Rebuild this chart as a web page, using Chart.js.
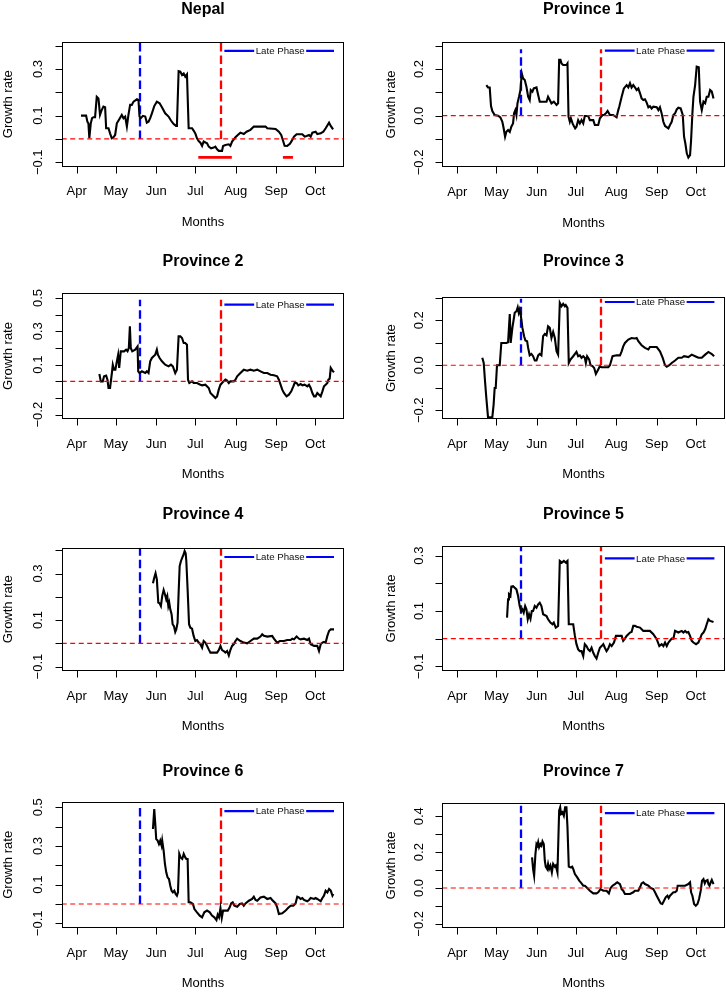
<!DOCTYPE html>
<html>
<head>
<meta charset="utf-8">
<script src="https://cdn.jsdelivr.net/npm/chart.js@4.4.0/dist/chart.umd.min.js"></script>
<style>
html, body { margin: 0; padding: 0; background: #fff; }
#wrap { position: relative; width: 726px; height: 993px; }
canvas { position: absolute; }
</style>
</head>
<body>
<div id="wrap"></div>
<script>
// x values are days since 1 April
const monthLabels = ['Apr', 'May', 'Jun', 'Jul', 'Aug', 'Sep', 'Oct'];
const monthStarts = [0, 30, 61, 91, 122, 153, 183];
const earlyDay = 48.8;      // blue dashed line
const lateDay = 110.4;      // red dashed line
const phaseFrom = 113.3, phaseTo = 197.4, phaseText = 156.1;
const nepalLow = [[93.3, 119], [158.2, 165.9]];   // red bars under Nepal
const nepalLowLevel = -0.079;

const nepal = [[3.3,0.1],[7.2,0.1],[8.2,0.074],[9.0,0.067],[9.7,0.003],[10.8,0.067],[11.8,0.089],[12.8,0.093],[14.1,0.093],[15.4,0.181],[16.7,0.174],[17.9,0.103],[19.2,0.124],[20.5,0.139],[21.8,0.136],[22.6,0.046],[24.4,0.046],[25.6,0.024],[26.9,0.003],[28.2,0.007],[29.5,0.017],[30.8,0.067],[32.1,0.079],[34.6,0.103],[35.9,0.089],[37.2,0.096],[38.5,0.053],[39.7,0.103],[41.0,0.146],[42.3,0.146],[43.6,0.16],[46.2,0.17],[47.4,0.167],[48.2,0.096],[49.2,0.089],[50.8,0.099],[52.6,0.096],[53.8,0.07],[55.1,0.074],[56.4,0.089],[57.7,0.11],[59.5,0.141],[61.5,0.16],[63.6,0.153],[65.4,0.136],[67.9,0.11],[70.5,0.096],[72.3,0.079],[74.4,0.064],[76.2,0.056],[76.9,0.06],[78.2,0.291],[79.5,0.289],[80.8,0.274],[82.1,0.281],[83.3,0.267],[84.6,0.277],[85.9,0.046],[88.5,0.046],[89.7,0.036],[91.0,0.024],[92.3,0.003],[93.6,-0.009],[94.9,-0.016],[96.2,-0.03],[97.4,-0.011],[100,-0.019],[101.3,-0.033],[103.1,-0.04],[105.1,-0.037],[106.4,-0.033],[107.7,-0.044],[109,-0.051],[111.5,-0.051],[112.3,-0.03],[114.1,-0.026],[116.7,-0.023],[117.9,-0.03],[119.2,-0.011],[121.8,0.007],[123.6,0.017],[125.6,0.027],[128.2,0.021],[130.3,0.031],[133.3,0.039],[135.9,0.053],[144.9,0.053],[146.2,0.046],[152.6,0.043],[155.1,0.031],[156.9,0.017],[158.5,-0.011],[159.5,-0.029],[161.5,-0.03],[163.6,-0.021],[165.4,-0.004],[166.7,0.01],[168.7,0.02],[173.1,0.02],[174.9,0.01],[176.4,0.013],[178.2,0.017],[179.5,0.01],[180.8,0.027],[183.3,0.031],[184.6,0.021],[187.2,0.024],[189.2,0.031],[191,0.046],[193.6,0.07],[194.9,0.056],[196.7,0.041]];

const province1 = [[22.3,0.131],[23.6,0.121],[24.9,0.121],[25.9,0.041],[26.9,0.02],[28.7,0.003],[31.3,0],[33.1,-0.007],[34.6,-0.026],[35.6,-0.054],[36.7,-0.09],[37.7,-0.069],[39.0,-0.061],[40.3,-0.069],[41.5,-0.047],[42.8,-0.033],[43.6,0.01],[44.6,0.024],[45.4,0.003],[46.2,0.053],[47.4,0.081],[48.5,0.11],[49.5,0.181],[50.5,0.16],[51.8,0.153],[53.1,0.124],[54.4,0.081],[55.6,0.067],[56.4,0.11],[57.7,0.103],[58.7,0.117],[60.8,0.121],[62.1,0.089],[63.3,0.06],[65.9,0.06],[68.5,0.06],[69.7,0.081],[71.0,0.067],[72.3,0.053],[74.1,0.06],[76.2,0.046],[77.4,0.053],[78.2,0.239],[79.2,0.239],[80.0,0.224],[81.3,0.217],[82.6,0.217],[83.8,0.217],[84.6,0.224],[85.4,-0.004],[86.4,-0.026],[87.2,-0.011],[88.5,-0.033],[89.5,-0.044],[90.5,-0.054],[91.5,-0.047],[92.8,-0.019],[94.1,-0.033],[95.4,-0.019],[96.7,-0.033],[97.9,-0.001],[100.5,-0.001],[101.8,-0.019],[104.4,-0.019],[105.6,-0.04],[108.2,-0.04],[109.5,-0.011],[111.5,0.003],[112.6,0.003],[114.1,0.01],[115.4,0.02],[117.2,0.003],[119.7,0.003],[122.3,-0.007],[123.6,0.024],[124.4,0.039],[126.2,0.081],[127.9,0.117],[130,0.131],[131.3,0.121],[132.6,0.139],[133.8,0.121],[135.1,0.131],[136.4,0.121],[137.7,0.11],[139,0.117],[140.3,0.096],[141.5,0.074],[142.8,0.067],[144.1,0.07],[145.4,0.056],[146.7,0.036],[147.9,0.041],[149.2,0.031],[150.5,0.039],[153.1,0.036],[154.4,0.024],[155.6,0.036],[156.9,0.01],[158.2,-0.026],[159.5,-0.044],[162.1,-0.054],[163.3,-0.04],[164.6,-0.026],[165.9,0.003],[167.2,0.01],[168.5,0.027],[169.7,0.034],[171.5,0.031],[173.1,0.003],[174.1,-0.09],[175.1,-0.119],[176.2,-0.161],[177.4,-0.179],[178.7,-0.169],[179.5,-0.104],[180.5,0.01],[181.3,0.081],[182.6,0.131],[183.8,0.21],[185.4,0.207],[186.4,0.06],[187.7,0.024],[189,0.06],[190.3,0.053],[191.5,0.081],[192.8,0.081],[194.1,0.11],[195.4,0.103],[196.7,0.074]];

const province2 = [[17.4,0.044],[18.5,0],[20,0],[21,0.03],[22.6,0.034],[23.6,0.01],[24.4,-0.04],[25.6,-0.04],[27,0.05],[27.7,0.1],[28.7,0.07],[29.7,0.07],[30.8,0.12],[31.8,0.16],[32.6,0.08],[33.8,0.18],[34.9,0.18],[36.4,0.18],[37.9,0.19],[39,0.18],[40,0.2],[40.8,0.33],[41.5,0.2],[42.6,0.18],[44.9,0.19],[46.7,0.21],[47.2,0.06],[48.2,0.05],[50,0.06],[52.6,0.05],[53.8,0.06],[55.1,0.05],[56.4,0.12],[57.7,0.14],[59,0.15],[60.3,0.16],[61.5,0.19],[62.3,0.16],[63.6,0.14],[65.4,0.12],[67.9,0.1],[70.5,0.09],[72.3,0.1],[73.8,0.09],[75.6,0.05],[76.9,0.07],[78.2,0.27],[79.5,0.27],[80.8,0.26],[82.1,0.23],[83.3,0.23],[84.6,0.22],[85.4,0.01],[86.4,-0.01],[88.5,0],[89.7,-0.01],[92.3,-0.01],[94.9,-0.02],[96.2,-0.024],[98.7,-0.02],[101.3,-0.04],[102.6,-0.07],[105.1,-0.09],[106.4,-0.1],[107.7,-0.09],[109,-0.05],[110.3,-0.02],[111.5,-0.01],[112.8,0],[114.1,0.01],[115.4,0.004],[116.7,-0.01],[117.9,0],[120.5,0],[121.8,0.01],[123.1,0.03],[125.6,0.05],[128.2,0.07],[130.8,0.064],[133.3,0.07],[135.9,0.064],[138.5,0.07],[141,0.06],[143.6,0.05],[146.2,0.05],[148.7,0.04],[151.3,0.036],[153.8,0.03],[155.1,0.01],[156.4,-0.02],[157.7,-0.05],[159,-0.07],[161,-0.09],[162.8,-0.08],[164.6,-0.06],[166.2,-0.03],[167.2,-0.01],[168.7,-0.01],[170,-0.024],[171.8,-0.016],[173.1,-0.024],[174.9,-0.02],[176.9,-0.03],[178.2,-0.02],[179.5,-0.04],[180.8,-0.07],[182.1,-0.09],[183.3,-0.09],[184.6,-0.07],[185.9,-0.08],[187.2,-0.09],[188.5,-0.06],[189.7,-0.03],[191,-0.02],[192.3,-0.01],[193.1,0.01],[194.1,0.016],[194.9,0.08],[196.2,0.064],[197.4,0.054]];

const province3 = [[19.2,0.033],[20.3,0.01],[21.3,-0.071],[22.3,-0.145],[23.6,-0.231],[26.9,-0.231],[27.9,-0.175],[28.7,-0.101],[29.5,-0.101],[30.5,0],[32.6,0],[33.8,0.099],[35.1,0.099],[37.7,0.099],[39,0.102],[40.3,0.228],[41,0.099],[42.3,0.166],[44.1,0.233],[45.4,0.24],[46.4,0.258],[47.2,0.233],[47.9,0.247],[48.7,0.225],[50,0.166],[51.3,0.129],[52.3,0.11],[53.6,0.107],[54.4,0.077],[55.6,0.044],[56.9,0.05],[58.2,0.04],[59.5,0.021],[60.8,0.021],[62.1,0.044],[63.3,0.05],[64.6,0.044],[65.9,0.129],[67.2,0.139],[68.5,0.133],[69.7,0.173],[71,0.166],[72.3,0.121],[73.6,0.148],[74.9,0.121],[76.2,0.062],[77.4,0.047],[78.7,0.277],[80,0.262],[81.3,0.273],[82.6,0.262],[83.3,0.267],[84.6,0.255],[85.6,0.01],[86.9,0.025],[89,0.04],[91.5,0.059],[92.8,0.04],[94.1,0.044],[95.4,0.033],[96.7,0.04],[97.9,0.033],[98.7,0.01],[99.7,0.04],[101.3,0.025],[102.3,0],[103.8,-0.004],[105.1,-0.012],[106.4,-0.039],[108.2,-0.019],[109.5,-0.004],[110.8,-0.009],[113.3,-0.009],[115.9,-0.009],[117.2,0],[119.2,0.04],[122.3,0.044],[124.9,0.044],[126.2,0.062],[127.4,0.084],[128.7,0.099],[131.3,0.114],[133.8,0.121],[136.4,0.119],[137.7,0.121],[139,0.107],[141.5,0.089],[144.1,0.077],[146.7,0.07],[147.9,0.081],[153.1,0.081],[155.6,0.062],[157.7,0.033],[159.5,0],[160.8,-0.007],[162.8,0],[164.6,0.01],[167.2,0.021],[169.7,0.033],[172.3,0.033],[174.1,0.04],[177.4,0.036],[180,0.047],[182.6,0.04],[185.1,0.033],[187.7,0.033],[190.3,0.047],[192.8,0.059],[195.4,0.05],[197.2,0.04]];

const province4 = [[58.5,0.258],[59.5,0.282],[60.5,0.301],[61.5,0.275],[62.6,0.175],[63.6,0.172],[64.6,0.16],[65.6,0.203],[66.7,0.229],[67.7,0.211],[68.7,0.189],[69.5,0.203],[70.3,0.16],[71,0.175],[71.8,0.146],[72.8,0.125],[73.6,0.082],[74.6,0.074],[75.6,0.049],[76.4,0.06],[77.4,0.089],[78.2,0.218],[79,0.332],[80,0.354],[81,0.368],[82.1,0.383],[82.8,0.397],[83.6,0.387],[84.1,0.354],[85.1,0.232],[86.2,0.082],[87.2,0.067],[88.5,0.063],[89.7,0.032],[91,0.01],[92.3,0.014],[93.6,0.003],[94.9,-0.004],[96.2,-0.019],[97.4,0.01],[98.7,0.003],[100,-0.011],[101.3,-0.026],[102.6,-0.04],[105.1,-0.04],[107.7,-0.04],[109,-0.029],[110.3,-0.011],[111.5,-0.029],[112.8,-0.033],[114.1,-0.04],[115.4,-0.033],[116.7,-0.052],[117.9,-0.029],[119.2,-0.011],[120.5,-0.004],[121.8,0.01],[123.1,0.02],[125.6,0.01],[128.2,0.003],[130.8,0],[133.3,0.01],[135.9,0.02],[138.5,0.02],[141,0.029],[142.3,0.039],[143.6,0.032],[146.2,0.029],[150,0.032],[151.3,0.02],[153.8,0.003],[155.9,0.01],[159,0.01],[161.5,0.014],[164.1,0.014],[165.4,0.02],[166.7,0.017],[168.7,0.029],[170.5,0.02],[171.8,0.017],[174.4,0.02],[176.9,0.014],[178.2,0.02],[179.5,-0.004],[182.1,-0.011],[184.6,-0.011],[185.9,-0.033],[187.2,-0.004],[188.5,0.003],[189.7,0.006],[191,0.003],[192.3,0.032],[193.6,0.053],[194.9,0.06],[197.4,0.06]];

const province5 = [[38.2,0.076],[39,0.142],[39.7,0.16],[40.8,0.154],[41.5,0.188],[42.8,0.19],[44.1,0.184],[45.4,0.178],[46.7,0.154],[47.9,0.118],[49,0.1],[50,0.106],[51,0.094],[52.1,0.118],[53.1,0.106],[54.1,0.07],[55.1,0.088],[56.2,0.072],[57.2,0.1],[58.2,0.1],[59.5,0.118],[60.8,0.112],[62.1,0.124],[63.3,0.13],[64.6,0.118],[65.9,0.088],[68.5,0.082],[69.7,0.07],[71.5,0.058],[73.1,0.052],[74.1,0.058],[75.6,0.04],[77.4,0.046],[78.7,0.281],[80.3,0.275],[81.8,0.281],[83.3,0.275],[84.6,0.281],[85.6,0.052],[87.7,0.052],[89,0.052],[90.3,0.01],[91.5,-0.02],[92.8,-0.039],[94.1,-0.045],[95.4,-0.045],[96.7,-0.063],[97.9,-0.02],[99.2,-0.027],[100.5,-0.039],[101.8,-0.045],[103.1,-0.033],[104.4,-0.051],[105.6,-0.063],[106.9,-0.072],[108.2,-0.051],[109.5,-0.033],[110.8,-0.027],[112.1,-0.02],[113.3,-0.033],[114.6,-0.045],[115.9,-0.036],[117.2,-0.02],[118.5,-0.027],[120.3,-0.014],[121.8,0.01],[123.6,0.01],[126.2,0.01],[127.4,-0.008],[128.7,0],[130,0.01],[132.6,0.022],[133.8,0.024],[135.1,0.046],[136.4,0.046],[137.7,0.043],[140.3,0.04],[142.8,0.028],[147.9,0.028],[150.5,0.016],[153.1,-0.002],[155.1,-0.027],[156.9,-0.02],[158.2,-0.027],[159.5,-0.014],[160.8,-0.027],[162.1,-0.014],[164.6,0],[165.9,0],[167.2,0.028],[169.7,0.022],[172.3,0.028],[173.6,0.022],[174.9,0.028],[176.2,0.022],[177.4,0.024],[178.7,0.01],[180,-0.008],[181.3,-0.014],[183.3,-0.02],[185.1,-0.014],[186.4,0],[187.7,0.016],[189,0.022],[190.3,0.034],[191.5,0.052],[192.8,0.07],[194.1,0.064],[196.7,0.06]];

const province6 = [[58.5,0.388],[59.5,0.491],[60.3,0.414],[61,0.336],[62.1,0.328],[63.1,0.31],[64.1,0.328],[65.1,0.302],[65.6,0.328],[66.7,0.276],[67.7,0.207],[68.7,0.164],[69.7,0.138],[70.8,0.129],[71.8,0.095],[72.8,0.069],[73.8,0.06],[74.9,0.069],[75.9,0.052],[76.9,0.043],[77.7,0.06],[78.7,0.259],[79.7,0.241],[81,0.233],[82.1,0.259],[83.3,0.241],[84.1,0.233],[85.1,0.233],[85.9,0.009],[87.2,0.009],[89.2,0],[90.3,-0.026],[92.3,-0.043],[94.4,-0.06],[96.2,-0.069],[97.9,-0.043],[100,-0.034],[102.1,-0.043],[103.8,-0.06],[105.6,-0.069],[107.2,-0.083],[108.2,-0.055],[109.2,-0.069],[110.3,-0.021],[111.3,-0.072],[112.3,-0.034],[114.1,-0.034],[115.9,-0.034],[117.4,-0.017],[118.5,0.003],[119.7,0.009],[121,-0.009],[123.1,-0.014],[125.1,0],[126.9,0.003],[128.2,-0.009],[129.5,0.003],[132.1,0.017],[134.6,0.026],[135.9,0.038],[137.2,0.021],[138.5,0.017],[141,0.034],[143.6,0.038],[146.2,0.026],[148.7,0.031],[150,0.021],[152.6,0.003],[153.8,-0.017],[155.1,-0.052],[157.7,-0.048],[160.3,-0.034],[162.1,-0.021],[164.1,-0.009],[166.2,-0.009],[167.9,0.003],[169.2,0.038],[170.5,0.034],[171.8,0.026],[173.1,0.031],[174.4,0.021],[176.9,0.014],[178.2,0.021],[179.5,0.031],[182.1,0.026],[183.3,0.031],[184.6,0.026],[187.2,0.014],[188.5,0.031],[189.7,0.043],[191,0.069],[192.3,0.06],[193.6,0.078],[194.9,0.069],[196.2,0.043],[196.9,0.052]];

const province7 = [[57.4,0.171],[58.2,0.106],[59,0.069],[60,0.19],[60.8,0.245],[61.5,0.236],[62.1,0.255],[62.8,0.227],[63.8,0.245],[64.6,0.236],[65.4,0.26],[66.4,0.245],[67.2,0.152],[67.9,0.119],[69,0.106],[69.7,0.134],[70.5,0.106],[71.5,0.125],[72.6,0.087],[73.6,0.134],[74.9,0.119],[75.6,0.125],[76.9,0.087],[78.2,0.431],[79,0.45],[79.7,0.413],[80.8,0.422],[81.8,0.403],[82.8,0.45],[83.8,0.45],[84.6,0.338],[85.6,0.119],[86.9,0.115],[88.2,0.119],[89,0.106],[90.3,0.078],[92.1,0.059],[93.6,0.041],[95.4,0.026],[96.7,0.013],[97.9,0.013],[99.2,0.004],[101.8,-0.015],[104.4,-0.03],[106.9,-0.03],[108.2,-0.024],[110,-0.006],[112.1,-0.015],[114.6,-0.015],[116.4,-0.03],[117.7,0],[119.2,0.013],[121,0.022],[122.8,0.032],[124.9,0.022],[126.2,-0.006],[127.4,-0.015],[128.7,-0.033],[131.3,-0.033],[132.6,-0.033],[135.1,-0.024],[136.4,-0.015],[139,-0.015],[140.3,0.004],[141.5,0.026],[142.8,0.032],[144.1,0.022],[146.7,0.013],[148.5,0],[150.5,-0.006],[151.8,-0.024],[153.1,-0.043],[154.4,-0.061],[156.2,-0.086],[157.4,-0.089],[158.7,-0.071],[160,-0.052],[161.3,-0.043],[162.3,-0.056],[163.3,-0.043],[164.6,-0.033],[165.9,-0.024],[167.2,-0.024],[168.5,-0.015],[169.2,0.013],[170.5,0.013],[172.3,0.013],[174.9,0.013],[177.4,0.022],[178.7,0.032],[179.5,-0.024],[180.5,-0.043],[181.8,-0.089],[183.1,-0.099],[184.4,-0.089],[185.6,-0.061],[186.9,-0.015],[187.9,0.041],[189,0.05],[190,0.026],[191,0.041],[192.1,0.045],[192.8,0.022],[193.6,0.013],[194.6,0.032],[195.4,0.045],[196.7,0.022]];

const titles = ['Nepal', 'Province 1', 'Province 2', 'Province 3', 'Province 4', 'Province 5', 'Province 6', 'Province 7'];
const seriesList = [nepal, province1, province2, province3, province4, province5, province6, province7];
const yRanges = [[-0.119, 0.417], [-0.221, 0.317], [-0.226, 0.53], [-0.239, 0.302], [-0.119, 0.411], [-0.117, 0.335], [-0.124, 0.529], [-0.223, 0.474]];
const yTicks = [[-0.1, 0.4], [-0.2, 0.3], [-0.2, 0.5], [-0.2, 0.3], [-0.1, 0.4], [-0.1, 0.3], [-0.1, 0.5], [-0.2, 0.4]];
const yLabels = [[-0.1, 0.1, 0.3], [-0.2, 0, 0.2], [-0.2, 0.1, 0.3, 0.5], [-0.2, 0, 0.2], [-0.1, 0.1, 0.3], [-0.1, 0.1, 0.3], [-0.1, 0.1, 0.3, 0.5], [-0.2, 0, 0.2, 0.4]];
const markerTops = [0.417, 0.285, 0.49, 0.296, 0.411, 0.335, 0.5, 0.459];
const phaseLevels = [0.378, 0.279, 0.46, 0.281, 0.371, 0.29, 0.48, 0.418];

// page geometry (pixels)
const rowTops = [0, 248, 496, 744];
const rowHeights = [248, 248, 248, 249];
const titleYs = [10, 14, 18.3, 27.3];
const boxTops = [41.7, 41.7, 45, 49.3, 51.7, 50, 57.7, 59];
const boxBottoms = [166.7, 167.3, 171, 171, 175, 175, 184, 184];

const FONT = '"Liberation Sans", Arial, Helvetica, sans-serif';

// dashed phase markers (vertical), placed with the chart's own scales.
// dashes are laid out as separate strokes so the gaps always show
const rMarkers = {
    id: 'rMarkers',
    beforeDatasetsDraw(chart, args, o) {
        const { ctx, chartArea: a } = chart;
        const x = chart.scales.x, y = chart.scales.y;
        const dash = 8.5, gap = 4;
        ctx.save();
        ctx.beginPath();
        ctx.rect(a.left, a.top, a.right - a.left, a.bottom - a.top);
        ctx.clip();
        ctx.lineWidth = 2.3;
        ctx.lineCap = 'butt';
        [[earlyDay, '#0000ff'], [lateDay, '#ff0000']].forEach(([d, c]) => {
            const px = Math.round(x.getPixelForValue(d));
            const y0 = y.getPixelForValue(0), y1 = y.getPixelForValue(o.top);
            ctx.strokeStyle = c;
            ctx.beginPath();
            for (let yy = y0; yy > y1; yy -= dash + gap) {
                ctx.moveTo(px, yy);
                ctx.lineTo(px, Math.max(yy - dash, y1));
            }
            ctx.stroke();
        });
        ctx.restore();
    }
};

const rFrame = {
    id: 'rFrame',
    afterDatasetsDraw(chart, args, o) {
        const { ctx, chartArea: a } = chart;
        const x = chart.scales.x, y = chart.scales.y;
        ctx.save();

        // "Late Phase" label sitting on the blue bar
        ctx.font = '9.7px ' + FONT;
        const lw = ctx.measureText('Late Phase').width;
        const lx = x.getPixelForValue(phaseText), ly = y.getPixelForValue(o.phase);
        ctx.fillStyle = '#fff';
        ctx.fillRect(lx - lw / 2 - 1.5, ly - 5, lw + 3, 10);
        ctx.fillStyle = '#111';
        ctx.textAlign = 'center';
        ctx.textBaseline = 'middle';
        ctx.fillText('Late Phase', lx, ly + 0.5);

        // box
        ctx.strokeStyle = '#000';
        ctx.lineWidth = 1;
        const L = Math.round(a.left) + 0.5, R = Math.round(a.right) - 0.5;
        const T = Math.round(a.top) + 0.5, B = Math.round(a.bottom) - 0.5;
        ctx.strokeRect(L, T, R - L, B - T);

        // ticks
        ctx.beginPath();
        monthStarts.forEach(d => {
            const px = Math.round(x.getPixelForValue(d)) + 0.5;
            ctx.moveTo(px, B); ctx.lineTo(px, B + 7);
        });
        for (let v = o.ticks[0]; v <= o.ticks[1] + 1e-9; v += 0.1) {
            const py = Math.round(y.getPixelForValue(v)) + 0.5;
            ctx.moveTo(L, py); ctx.lineTo(L - 7, py);
        }
        ctx.stroke();

        ctx.fillStyle = '#000';
        ctx.font = '13px ' + FONT;
        ctx.textAlign = 'center';
        ctx.textBaseline = 'middle';
        monthStarts.forEach((d, i) => {
            ctx.fillText(monthLabels[i], x.getPixelForValue(d), a.bottom + 25);
        });
        o.labels.forEach(v => {
            ctx.save();
            ctx.translate(a.left - 23, y.getPixelForValue(v));
            ctx.rotate(-Math.PI / 2);
            ctx.fillText(v < 0 ? '\u2212' + Math.abs(v).toFixed(1) : v.toFixed(1), 0, 0);
            ctx.restore();
        });

        // axis titles
        const cx = (a.left + a.right) / 2;
        ctx.fillText('Months', cx, a.bottom + 55.7);
        ctx.save();
        ctx.translate(a.left - o.yGap, (a.top + a.bottom) / 2);
        ctx.rotate(-Math.PI / 2);
        ctx.fillText('Growth rate', 0, 0);
        ctx.restore();

        ctx.font = 'bold 16px ' + FONT;
        ctx.fillText(o.title, cx, o.titleY);
        ctx.restore();
    }
};

const wrap = document.getElementById('wrap');
const xMin = -11.5, xMax = 205.3;

titles.forEach((title, i) => {
    const row = Math.floor(i / 2), col = i % 2;
    const W = 363, H = rowHeights[row];
    const canvas = document.createElement('canvas');
    canvas.width = W; canvas.height = H;
    canvas.style.left = (col * 363) + 'px';
    canvas.style.top = rowTops[row] + 'px';
    canvas.style.width = W + 'px'; canvas.style.height = H + 'px';
    wrap.appendChild(canvas);

    const padLeft = col === 0 ? 61.7 : 79.3;
    const padRight = col === 0 ? 18.7 : 1.3;
    const top = boxTops[i], bottom = H - boxBottoms[i];

    const datasets = [
        {   // zero line
            data: [{ x: xMin, y: 0 }, { x: xMax, y: 0 }],
            borderColor: '#ff0000', borderWidth: 1.2, borderDash: [5, 3.5]
        },
        {   // late phase bar
            data: [{ x: phaseFrom, y: phaseLevels[i] }, { x: phaseTo, y: phaseLevels[i] }],
            borderColor: '#0000ff', borderWidth: 2.2
        },
        {   // growth rate
            data: seriesList[i].map(([x, y]) => ({ x, y })),
            borderColor: '#000', borderWidth: 2.1
        }
    ];
    if (i === 0) {
        nepalLow.forEach(([a, b]) => datasets.push({
            data: [{ x: a, y: nepalLowLevel }, { x: b, y: nepalLowLevel }],
            borderColor: '#ff0000', borderWidth: 2.6
        }));
    }
    datasets.forEach(d => { d.pointRadius = 0; d.fill = false; d.tension = 0; d.borderCapStyle = 'butt'; });

    new Chart(canvas.getContext('2d'), {
        type: 'line',
        data: { datasets },
        options: {
            responsive: false,
            animation: false,
            devicePixelRatio: 1,
            layout: { padding: { left: padLeft, right: padRight, top: top, bottom: bottom } },
            scales: {
                x: { type: 'linear', min: xMin, max: xMax, display: false },
                y: { type: 'linear', min: yRanges[i][0], max: yRanges[i][1], display: false }
            },
            plugins: {
                legend: { display: false },
                tooltip: { enabled: false },
                rMarkers: { top: markerTops[i] },
                rFrame: {
                    title: title,
                    titleY: titleYs[row],
                    ticks: yTicks[i],
                    labels: yLabels[i],
                    phase: phaseLevels[i],
                    yGap: col === 0 ? 53.5 : 51
                }
            }
        },
        plugins: [rMarkers, rFrame]
    });
});
</script>
</body>
</html>
